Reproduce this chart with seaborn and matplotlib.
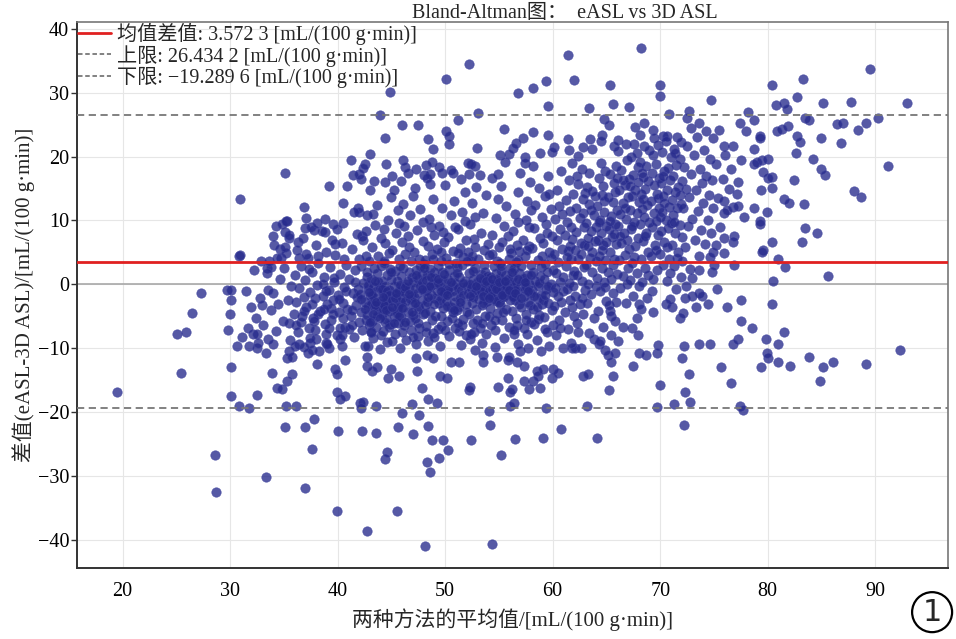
import seaborn as sns
import matplotlib.pyplot as plt
import matplotlib.lines as mlines
import pandas as pd

# summary statistics printed in the legend
mean_diff = 3.5723
upper_loa = 26.4342
lower_loa = -19.2896

# sparse points above the main cloud (x = mean of methods, y = difference)
outer_top = [
    (43.0, 20.4), (41.2, 19.5), (42.5, 18.8), (41.4, 17.1), (42.0, 17.3), (42.2, 16.5), (39.2, 15.4), (40.9, 15.4),
    (40.5, 12.7), (41.9, 11.9), (42.0, 11.3), (36.9, 12.1), (37.1, 10.4), (35.3, 9.9), (34.3, 9.1), (38.8, 10.2),
    (39.6, 9.4), (37.0, 8.8), (37.8, 8.5), (35.1, 8.2), (35.5, 7.2), (36.3, 6.7), (42.3, 7.5), (34.6, 5.6),
    (34.7, 4.2), (36.4, 4.2), (37.1, 4.7), (38.2, 4.4), (32.9, 3.6), (33.4, 2.5), (33.8, 2.7), (38.8, 8.2),
    (39.8, 6.3), (27.3, -1.3), (29.7, -0.9), (30.1, -0.9), (35.1, 17.4), (30.9, 13.3), (30.8, 4.4),
    (68.2, 37.0), (61.4, 35.9), (52.2, 34.5), (50.1, 32.2), (62.0, 32.0), (65.3, 31.2), (70.0, 31.2), (59.4, 31.8),
    (58.2, 30.7), (56.8, 30.0), (44.9, 30.1), (59.6, 27.9), (63.4, 27.6), (65.6, 28.2), (67.1, 27.8), (70.0, 29.5),
    (43.9, 26.5), (51.2, 25.7), (53.1, 26.8), (46.0, 24.9), (47.5, 24.9), (64.8, 25.9), (65.2, 24.9), (55.5, 24.3),
    (58.2, 23.8), (59.6, 23.4), (50.1, 24.0), (50.4, 23.2), (50.4, 22.0), (44.4, 22.9), (48.4, 22.7), (48.9, 21.2),
    (53.0, 21.3), (57.2, 22.9), (56.6, 22.1), (56.3, 21.3), (61.4, 22.7), (63.5, 22.7), (64.6, 23.4), (64.5, 22.4),
    (66.1, 22.6), (67.7, 24.6), (68.5, 25.3), (68.1, 23.4), (69.3, 24.2), (70.3, 23.2), (46.1, 19.5), (46.3, 18.4),
    (55.1, 20.2), (55.9, 20.4), (57.4, 19.9), (58.8, 20.5), (60.1, 21.5), (59.9, 20.7), (61.5, 21.0), (62.4, 20.1),
    (62.8, 21.5), (63.7, 21.2), (65.7, 21.6), (66.8, 22.0), (52.1, 19.0), (52.8, 18.5), (48.2, 18.7), (48.0, 17.1),
    (48.6, 17.3), (48.6, 15.7), (49.7, 17.4), (50.7, 17.4), (45.1, 16.9), (44.4, 16.0), (54.9, 17.3), (52.2, 17.3),
]

# sparse points on the right-hand side
outer_right = [
    (89.5, 33.7), (93.0, 28.4), (83.3, 32.2), (80.4, 31.2), (82.7, 29.3), (85.1, 28.4), (87.7, 28.5), (80.8, 28.1),
    (81.5, 28.4), (81.8, 27.5), (90.3, 26.0), (89.1, 25.3), (88.4, 24.2), (87.0, 25.3), (86.4, 25.1), (83.5, 26.0),
    (83.8, 25.7), (81.9, 24.8), (81.3, 24.3), (80.9, 24.0), (85.0, 22.9), (86.8, 22.1), (82.7, 23.2), (83.0, 22.3),
    (82.6, 20.5), (84.2, 19.6), (85.0, 18.0), (85.3, 17.1), (91.2, 18.5), (88.0, 14.6), (88.7, 13.6), (82.4, 16.3),
    (83.4, 12.5), (81.5, 13.3), (82.0, 12.7), (83.5, 8.8), (84.6, 8.0), (83.2, 6.6), (80.4, 6.6), (81.0, 3.9),
    (81.6, 2.7), (80.5, 0.6), (85.6, 1.3), (79.6, 5.3), (79.5, 5.0), (79.9, 11.3), (79.3, 9.9), (79.3, 9.4),
    (78.7, 11.9), (80.4, 15.1), (79.4, 14.7), (80.4, 16.8), (80.0, 16.6), (79.6, 17.6), (80.0, 19.6), (79.5, 19.5),
    (79.0, 19.1), (78.7, 18.8), (78.7, 21.2), (79.3, 23.2), (79.3, 22.9), (78.0, 24.0), (77.4, 25.3), (78.7, 25.7),
    (78.2, 27.0), (74.7, 28.9), (70.8, 26.7), (72.7, 27.1), (72.5, 26.0), (74.3, 24.0), (75.5, 24.2), (74.9, 22.9),
    (76.8, 21.6), (75.9, 21.6), (70.6, 23.2), (76.8, 12.1), (75.9, 13.0), (75.9, 11.1), (77.1, 14.1), (77.2, 16.0),
    (76.8, 6.6), (75.9, 7.2), (75.2, 6.1), (74.9, 5.0), (75.9, 4.9), (76.9, 3.1), (74.8, 1.9), (73.6, 2.2),
    (75.3, -0.7),
]

# sparse points below the main cloud
outer_bottom = [
    (19.5, -16.9), (25.1, -7.8), (25.9, -7.4), (25.4, -13.8), (26.5, -4.5), (28.6, -26.7), (28.7, -32.5),
    (30.1, -13.0), (30.1, -17.4), (30.8, -19.0), (31.8, -19.3), (32.5, -17.3), (33.3, -30.1), (29.8, -7.2),
    (30.0, -4.7), (30.1, -2.4), (30.6, -9.7), (31.1, -8.2), (31.8, -9.7), (32.1, -7.7), (32.5, -7.7), (32.5, -10.0),
    (33.3, -10.8), (33.5, -8.5), (34.0, -9.4), (33.9, -13.8), (34.4, -16.2), (34.8, -16.3), (35.3, -15.1),
    (35.8, -14.1), (35.2, -19.0), (36.1, -19.0), (35.1, -22.3), (37.0, -22.3), (37.8, -21.0), (37.6, -25.7),
    (37.0, -31.8), (39.9, -35.5), (42.7, -38.6), (38.1, -12.5), (39.8, -13.3), (39.9, -14.1), (39.9, -16.9),
    (40.2, -17.9), (40.7, -17.4), (40.0, -23.0), (42.3, -22.9), (42.1, -18.5), (42.4, -18.4), (42.2, -19.4),
    (42.7, -11.3), (42.7, -12.7), (43.2, -13.6), (40.7, -11.8), (43.6, -19.1), (43.6, -23.2),
    (36.4, -9.3), (35.5, -10.4), (35.3, -11.6), (35.8, -11.3), (37.4, -9.1), (37.2, -10.7), (37.6, -10.2),
    (38.3, -10.5), (38.9, -9.1), (39.2, -10.0), (40.2, -8.6), (40.4, -9.7), (42.8, -9.6), (43.1, -7.5),
    (45.5, -35.5), (48.1, -40.9), (54.4, -40.6), (44.4, -27.3), (44.6, -26.2), (45.6, -22.3), (47.0, -23.4),
    (48.3, -27.8), (48.6, -29.3), (49.4, -27.1), (48.8, -24.3), (49.8, -24.3), (50.3, -25.9), (48.4, -22.1),
    (47.6, -20.5), (46.0, -20.1), (46.9, -18.7), (48.4, -18.0), (49.2, -18.5), (47.8, -16.2), (52.4, -24.3),
    (54.2, -22.0), (54.1, -19.8), (55.2, -26.7), (56.5, -24.2), (59.1, -24.0), (60.8, -22.7), (64.1, -24.0),
    (59.4, -19.4), (63.2, -19.1), (69.7, -19.2), (70.0, -15.7), (65.2, -16.5), (65.6, -14.3), (62.8, -14.3),
    (63.3, -14.0), (56.4, -18.5), (56.0, -19.1), (54.9, -16.0), (56.2, -16.3), (56.0, -16.9), (52.3, -16.0),
    (52.2, -16.5), (57.8, -16.3), (58.8, -16.2), (58.2, -15.2), (58.6, -14.4), (57.3, -15.1), (55.8, -14.7),
    (59.9, -14.6), (60.0, -13.3), (60.5, -13.8), (58.5, -13.5), (59.1, -13.3), (50.2, -14.7), (49.5, -14.4),
    (47.4, -13.6), (45.7, -14.4), (44.7, -14.7), (45.0, -13.3), (43.7, -12.9), (47.3, -11.6), (48.3, -11.0),
    (48.9, -11.6), (50.5, -12.1), (51.3, -12.1), (53.5, -12.1), (53.5, -11.1), (54.8, -11.3), (55.8, -11.9),
    (55.9, -11.3), (56.7, -12.2), (57.3, -12.7), (57.0, -10.5), (61.0, -9.9), (61.8, -10.0), (62.1, -9.9),
    (64.3, -9.3), (64.9, -10.2), (65.1, -11.1), (65.4, -12.1), (65.8, -10.8), (66.1, -8.9), (66.5, -6.7),
    (67.5, -12.7), (67.4, -6.9), (67.9, -8.0), (68.0, -10.7), (68.7, -11.1), (69.3, -4.4), (67.8, -5.3),
    (65.4, -4.9), (65.3, -4.1), (68.0, -3.0), (68.2, -3.9),
    (92.3, -10.2), (89.1, -12.4), (86.1, -12.1), (85.1, -13.0), (84.9, -15.1), (83.8, -11.3), (82.1, -12.7),
    (81.0, -12.1), (80.0, -11.5), (79.9, -10.8), (79.4, -13.0), (81.5, -7.4), (81.0, -9.4), (79.8, -8.6),
    (80.4, -3.1), (78.5, -6.9), (77.5, -5.8), (77.2, -8.6), (76.8, -9.3), (77.5, -2.4), (76.6, -15.5),
    (77.4, -19.1), (77.7, -19.6), (75.7, -13.0), (74.6, -9.4), (73.6, -9.3), (72.2, -9.6), (69.8, -9.5),
    (69.7, -10.8), (72.0, -11.6), (72.7, -14.1), (72.3, -16.8), (72.8, -18.4), (71.3, -18.8), (72.2, -22.0),
    (76.2, -3.5), (74.4, -3.0), (71.1, -3.6), (70.5, -3.0), (71.8, -5.2), (72.1, -4.5), (72.3, -2.2),
    (73.0, -1.9), (73.6, -1.4),
]

# main cloud, by x band
band_30_36 = [
    (30.9, 4.6), (31.5, -1.0), (31.9, -3.5), (32.4, -5.2), (32.8, -2.1), (33.1, -6.4), (33.4, 1.8), (33.6, 3.6),
    (33.8, -4.0), (34.0, -1.4), (34.1, 6.2), (34.3, -7.3), (34.5, -3.0), (34.6, 0.8), (34.8, 9.5), (34.9, -5.8),
    (35.0, 2.6), (35.2, 4.9), (35.4, -2.4), (35.5, 7.8), (35.6, -8.7), (35.7, -0.3), (35.9, -4.6), (36.0, 1.5),
    (34.0, 7.6), (32.6, -9.1), (35.1, 5.9), (33.5, -0.9), (31.7, -6.8), (32.2, 2.3), (34.4, 4.1), (35.5, -6.1),
    (33.0, -3.3), (36.0, -9.6), (35.2, 9.9),
]
band_36_42 = [
    (36.1, -2.8), (36.2, 5.4), (36.3, -7.5), (36.4, -0.5), (36.6, 2.9), (36.7, -4.9), (36.8, 7.3), (36.9, -9.8),
    (37.0, 0.7), (37.1, -3.6), (37.2, 4.2), (37.3, -6.8), (37.4, -1.2), (37.5, 9.0), (37.6, 1.9), (37.7, -5.3),
    (37.9, -2.2), (38.0, 6.1), (38.0, -8.6), (38.1, -0.1), (38.2, 3.4), (38.4, -4.1), (38.5, 8.3), (38.6, -1.8),
    (38.7, 1.2), (38.8, -6.2), (38.9, 5.1), (39.0, -3.0), (39.0, -9.3), (39.2, -0.9), (39.3, 2.7), (39.4, -5.6),
    (39.5, 7.0), (39.6, -2.5), (39.7, 0.4), (39.8, 4.6), (39.9, -7.9), (40.0, -1.6), (40.1, -4.4), (40.2, 1.6),
    (40.4, 6.4), (40.5, -2.9), (40.5, 9.6), (40.6, -0.4), (40.7, -6.6), (40.8, 3.1), (40.9, -3.8), (41.1, 0.9),
    (41.2, -5.0), (41.3, 5.5), (41.4, -1.3), (41.5, -8.2), (41.5, 11.4), (41.6, 2.2), (41.7, -3.2), (41.8, 7.9),
    (41.9, -0.7), (42.0, -5.9), (42.0, 4.0), (36.9, -2.0), (37.6, -3.1), (38.2, -4.6), (38.9, -1.1), (39.4, -3.7),
    (40.1, -2.3), (40.8, -1.0), (41.3, -4.0), (41.8, -2.0), (37.3, 2.4), (38.6, 0.1), (39.7, 1.0), (40.6, 3.9),
    (41.6, 0.3), (36.6, -5.9), (37.9, -7.2), (39.2, -6.9), (40.4, -8.0), (41.1, -7.0), (38.1, 9.6), (39.9, 8.7),
]
band_42_48 = [
    (42.1, -1.5), (42.2, -4.3), (42.2, 2.8), (42.3, -7.1), (42.4, 0.2), (42.4, 6.9), (42.5, -2.7), (42.5, -9.6),
    (42.6, 4.5), (42.6, -5.5), (42.7, 1.1), (42.7, 10.8), (42.8, -0.8), (42.8, -3.4), (42.9, -6.3), (42.9, 3.7),
    (43.0, -1.9), (43.0, 14.7), (42.6, 8.4), (42.4, 18.2), (42.8, -0.1), (42.2, -2.3), (42.7, -4.8),
    (43.1, -3.1), (43.1, 0.9), (43.2, -5.7), (43.2, 5.8), (43.3, -0.4), (43.3, -8.4), (43.4, 2.5), (43.4, -2.2),
    (43.5, -4.0), (43.5, 9.3), (43.6, -1.1), (43.6, -6.7), (43.7, 1.7), (43.7, 12.4), (43.8, -3.6), (43.8, 4.4),
    (43.9, -0.6), (43.9, -10.1), (44.0, -2.6), (44.0, 7.2), (43.2, -1.6), (43.5, -3.3), (43.8, 0.3), (43.4, 16.1),
    (43.1, -7.5), (43.7, -5.0), (44.0, 2.9), (43.3, 11.0),
    (44.1, -4.6), (44.1, 0.5), (44.2, -1.4), (44.2, -7.3), (44.3, 3.3), (44.3, -2.9), (44.4, -0.2), (44.4, 6.5),
    (44.5, -5.4), (44.5, -1.8), (44.6, 1.4), (44.6, -9.0), (44.7, -3.5), (44.7, 10.1), (44.8, -0.9), (44.8, 4.9),
    (44.9, -6.2), (44.9, -2.1), (45.0, 0.8), (45.0, 13.6), (44.2, -3.8), (44.4, -5.9), (44.6, -2.4), (44.8, -4.2),
    (44.3, 8.7), (44.5, 18.9), (44.9, 2.4), (44.1, -0.7), (44.6, -1.1), (44.3, -3.3), (44.8, -1.6),
    (45.1, -2.4), (45.1, 5.3), (45.2, -4.9), (45.2, -0.3), (45.3, 2.1), (45.3, -7.8), (45.4, -1.7), (45.4, 8.0),
    (45.5, -3.9), (45.5, 0.6), (45.6, -6.0), (45.6, 11.7), (45.7, -1.0), (45.7, 3.9), (45.8, -2.8), (45.8, -9.9),
    (45.9, 1.3), (45.9, -5.1), (46.0, -0.5), (46.0, 6.7), (45.2, 14.8), (45.6, -3.2), (45.8, -0.1), (45.3, -2.1),
    (45.7, 9.6), (45.9, 16.2), (45.1, -8.9), (45.5, -4.5), (46.0, -2.2),
    (46.1, -3.6), (46.1, 2.6), (46.2, -1.2), (46.2, -6.4), (46.3, 4.8), (46.3, -2.6), (46.4, 0.0), (46.4, -8.7),
    (46.5, 7.5), (46.5, -4.3), (46.6, -0.8), (46.6, 1.9), (46.7, -5.7), (46.7, 10.9), (46.8, -1.9), (46.8, 3.6),
    (46.9, -3.0), (47.0, 0.4), (47.0, 13.9), (46.2, 9.1), (46.6, 5.9), (46.8, -7.1), (46.3, -0.4), (46.7, -2.3),
    (46.9, 1.1), (46.5, 17.4), (46.1, 12.6), (47.0, -4.8),
    (47.1, -2.0), (47.1, 5.0), (47.2, -0.6), (47.2, -5.2), (47.3, 2.3), (47.3, -9.4), (47.4, -1.4), (47.4, 8.5),
    (47.5, -3.4), (47.5, 0.9), (47.6, -6.9), (47.6, 4.0), (47.7, -0.2), (47.7, 11.8), (47.8, -2.5), (47.8, 1.6),
    (47.9, -4.7), (47.9, 6.8), (48.0, -1.0), (47.2, 15.1), (47.6, -3.9), (47.8, 0.3), (47.3, 18.0), (47.9, 9.8),
    (47.5, -8.1), (47.7, 2.9), (48.0, 3.2),
]
band_48_54 = [
    (48.1, -3.3), (48.1, 3.8), (48.2, -0.9), (48.2, -6.5), (48.3, 1.5), (48.3, -2.7), (48.4, 6.0), (48.4, -8.8),
    (48.5, -0.4), (48.5, 10.3), (48.6, -4.1), (48.6, 2.4), (48.7, -1.6), (48.8, 4.7), (48.8, -5.6), (48.9, 0.1),
    (48.9, 13.4), (49.0, -2.2), (49.0, 7.7), (48.3, 16.6), (48.7, 8.9), (48.9, -7.6), (48.2, 0.7), (48.6, -0.2),
    (48.8, 19.2), (49.0, 1.9),
    (49.1, -4.9), (49.1, 1.0), (49.2, -1.1), (49.2, 5.6), (49.3, -7.0), (49.3, 2.9), (49.4, -2.9), (49.4, 9.2),
    (49.5, -0.3), (49.5, -9.7), (49.6, 3.6), (49.6, -5.0), (49.7, -1.8), (49.7, 12.0), (49.8, 0.5), (49.8, -3.7),
    (49.9, 6.6), (50.0, -0.8), (50.0, 15.6), (49.4, 18.3), (49.6, -6.5), (49.8, 8.2), (49.3, 0.2), (49.7, 2.0),
    (49.5, -2.4), (49.9, -1.3),
    (50.1, -2.6), (50.1, 4.1), (50.2, -5.8), (50.2, 0.8), (50.3, -1.3), (50.3, 7.4), (50.4, -8.1), (50.4, 2.2),
    (50.5, -3.5), (50.5, 10.8), (50.6, -0.1), (50.7, 5.2), (50.7, -4.4), (50.8, 1.3), (50.8, 13.1), (50.9, -1.9),
    (50.9, -6.9), (51.0, 3.4), (50.2, -3.4), (50.5, 17.9), (50.7, -1.1), (50.9, 8.9), (50.3, -0.7), (50.6, -5.2),
    (50.8, -2.8), (51.0, 0.0),
    (51.1, -4.0), (51.1, 2.7), (51.2, -0.5), (51.2, 8.6), (51.3, -7.3), (51.3, 1.2), (51.4, -2.1), (51.4, 5.7),
    (51.5, -9.5), (51.5, -0.9), (51.6, 11.4), (51.6, 3.0), (51.7, -5.4), (51.7, -1.7), (51.8, 0.6), (51.8, 14.5),
    (51.9, -3.1), (51.9, 6.9), (52.0, -0.2), (51.6, -6.3), (51.8, 9.9), (51.3, -3.6), (51.7, 4.3), (51.5, 16.5),
    (51.9, -8.0),
    (52.1, -1.4), (52.1, 5.0), (52.2, -4.6), (52.2, 1.8), (52.3, -8.5), (52.3, 9.5), (52.4, -0.6), (52.4, 3.6),
    (52.5, -2.9), (52.5, 12.7), (52.6, -6.0), (52.6, 0.9), (52.7, -1.2), (52.7, 7.1), (52.8, -10.2), (52.8, 2.5),
    (52.9, -3.8), (52.9, 15.2), (53.0, 0.3), (53.0, -5.5), (52.4, 18.8), (52.6, -2.0), (52.8, 10.6), (52.3, 0.0),
    (52.7, -7.4), (52.5, 4.4), (52.9, -0.9),
    (53.1, -2.3), (53.1, 3.9), (53.2, -0.1), (53.2, -6.8), (53.3, 1.6), (53.3, 8.1), (53.4, -3.2), (53.4, -9.1),
    (53.5, 0.7), (53.5, 11.2), (53.6, -1.6), (53.6, 5.4), (53.7, -4.9), (53.7, 2.0), (53.8, -0.7), (53.8, 14.0),
    (53.9, -2.6), (54.0, 6.3), (54.0, 0.2), (53.2, 17.1), (53.6, -0.4), (53.8, -7.7), (53.3, -1.1), (53.5, -2.9),
    (53.7, 0.9), (53.9, 1.3), (54.0, -1.5),
]
band_54_60 = [
    (54.1, -1.0), (54.1, 4.6), (54.2, -3.7), (54.2, 1.1), (54.3, -6.3), (54.3, 0.0), (54.4, -0.8), (54.4, 7.8),
    (54.5, -2.3), (54.5, 2.8), (54.6, -9.8), (54.6, -0.4), (54.7, 1.7), (54.7, 10.4), (54.8, -1.5), (54.8, -4.5),
    (54.9, 0.6), (54.9, 13.3), (55.0, -2.8), (55.0, 5.9), (54.4, 16.7), (54.6, -7.2), (54.8, 3.7), (54.3, -1.9),
    (54.5, -0.1), (54.7, -2.6), (54.9, -0.7), (54.1, -5.0), (55.0, 1.0),
    (55.1, -0.3), (55.1, -3.1), (55.2, 2.1), (55.2, -1.1), (55.3, -5.6), (55.3, 6.7), (55.4, 0.4), (55.4, -2.0),
    (55.5, 9.1), (55.5, -8.4), (55.6, 1.5), (55.6, -0.6), (55.7, -3.8), (55.7, 12.2), (55.8, 0.9), (55.8, -1.4),
    (55.9, 4.0), (56.0, -2.4), (56.0, 0.1), (55.2, 15.4), (55.6, 19.1), (55.8, 7.5), (55.3, -0.9), (55.5, -1.8),
    (55.7, -0.2), (55.9, -6.7), (55.1, 3.3), (56.0, 2.6),
    (56.1, -1.7), (56.1, 4.9), (56.2, -4.2), (56.2, 1.2), (56.3, -0.4), (56.3, 8.4), (56.4, -7.8), (56.4, 2.6),
    (56.5, -2.5), (56.5, 11.0), (56.6, 0.3), (56.6, -5.3), (56.7, 6.1), (56.7, -1.0), (56.8, -9.3), (56.8, 14.4),
    (56.9, 1.8), (56.9, -3.0), (57.0, -0.2), (57.0, 17.4), (56.6, 3.5), (56.8, 9.8), (56.3, -2.0), (56.5, -0.9),
    (56.7, -6.4), (56.9, 5.2),
    (57.1, -3.6), (57.1, 2.9), (57.2, 0.5), (57.2, 7.0), (57.3, -1.9), (57.3, -6.9), (57.4, 4.4), (57.4, -0.8),
    (57.5, 10.1), (57.5, -4.6), (57.6, 1.5), (57.6, 13.0), (57.7, -2.8), (57.7, -9.9), (57.8, 6.0), (57.8, 0.0),
    (57.9, -1.3), (57.9, 16.0), (58.0, 3.0), (58.0, -5.9), (57.4, 19.0), (57.6, -7.8), (57.8, 8.9), (57.3, 1.0),
    (57.9, -3.2), (57.5, -0.4), (58.0, 11.6),
    (58.1, -0.9), (58.1, 5.7), (58.2, -3.9), (58.2, 2.0), (58.3, 8.8), (58.3, -6.2), (58.4, 0.6), (58.4, 12.4),
    (58.5, -2.1), (58.5, -8.7), (58.6, 3.8), (58.6, -0.3), (58.7, 15.1), (58.7, -4.8), (58.8, 1.3), (58.8, 7.3),
    (58.9, -10.4), (58.9, -1.6), (59.0, 10.5), (59.0, 4.5), (58.2, 18.6), (58.6, -5.4), (58.3, -1.9), (58.7, 0.2),
    (58.9, 2.7), (59.0, -3.0),
    (59.1, -2.5), (59.1, 6.4), (59.2, 0.9), (59.2, -5.1), (59.3, 3.2), (59.3, 13.9), (59.4, -0.7), (59.4, 9.4),
    (59.5, -7.4), (59.5, 1.9), (59.6, -2.9), (59.6, 16.9), (59.7, 5.1), (59.7, -9.6), (59.8, 0.1), (59.8, 11.8),
    (59.9, -4.0), (59.9, 7.6), (60.0, 2.3), (60.0, -1.2), (59.6, -0.2), (59.8, 4.1), (59.3, -1.6), (59.7, 14.2),
    (59.5, 8.1), (60.0, -6.3),
]
band_60_66 = [
    (60.1, -3.4), (60.1, 4.8), (60.2, 10.2), (60.2, -0.6), (60.3, 1.7), (60.3, -8.0), (60.4, 6.9), (60.4, 14.8),
    (60.5, -1.9), (60.5, 3.5), (60.6, 12.3), (60.6, -5.5), (60.7, 0.4), (60.7, 8.6), (60.8, 17.7), (60.8, -2.7),
    (60.9, 5.6), (61.0, 1.1), (60.7, -6.8), (60.9, 11.0), (61.0, -1.0),
    (61.1, 7.7), (61.1, -4.3), (61.2, 2.8), (61.2, 13.2), (61.3, -0.8), (61.3, 9.8), (61.4, -7.0), (61.4, 5.2),
    (61.5, 16.3), (61.5, 0.2), (61.6, -2.4), (61.6, 11.5), (61.7, 3.9), (61.7, -9.2), (61.8, 7.1), (61.8, 19.0),
    (61.9, -0.3), (61.9, 14.1), (62.0, -5.0), (62.0, 2.1), (61.6, 6.0), (61.8, -3.5), (61.3, 4.3), (61.7, 9.0),
    (61.9, 1.5),
    (62.1, 5.3), (62.1, -1.8), (62.2, 12.0), (62.2, 8.2), (62.3, -6.0), (62.3, 1.4), (62.4, 15.7), (62.4, 3.9),
    (62.5, -3.0), (62.5, 10.4), (62.6, 6.4), (62.6, -9.9), (62.7, 0.5), (62.7, 18.1), (62.8, 13.4), (62.8, -4.7),
    (62.9, 2.7), (62.9, 8.9), (63.0, -0.9), (62.4, -7.4), (62.6, 4.8), (62.8, 11.1), (62.3, 16.9), (62.7, -2.2),
    (62.9, 6.1), (63.0, 14.3),
    (63.1, 3.1), (63.1, 9.6), (63.2, -2.9), (63.2, 15.2), (63.3, 6.0), (63.3, 0.0), (63.4, 12.5), (63.4, -7.6),
    (63.5, 4.2), (63.6, 8.4), (63.6, -1.5), (63.7, 14.6), (63.7, 1.9), (63.8, -5.2), (63.8, 10.9), (63.9, 6.8),
    (64.0, -0.3), (64.0, 3.7), (63.4, 17.5), (63.6, 11.7), (63.8, -8.6), (63.3, 7.3), (63.7, 5.0), (63.9, 13.8),
    (64.0, 9.0),
    (64.1, 1.0), (64.1, 12.2), (64.2, 7.0), (64.2, -4.1), (64.3, 16.6), (64.3, 4.5), (64.4, 10.1), (64.4, -1.1),
    (64.5, 19.0), (64.5, 8.1), (64.6, 2.6), (64.6, 14.0), (64.7, -6.7), (64.7, 6.2), (64.8, 11.3), (64.8, 0.3),
    (64.9, 17.8), (64.9, 3.8), (65.0, 9.2), (65.0, -2.6), (64.4, -8.8), (64.6, 5.3), (64.8, 13.1), (64.3, 9.7),
    (64.7, 15.4), (64.9, -0.4), (65.0, 6.7),
    (65.1, 13.6), (65.1, 2.0), (65.2, 8.6), (65.2, -3.3), (65.3, 17.2), (65.3, 5.1), (65.4, 10.7), (65.4, 0.9),
    (65.5, 7.4), (65.6, -1.4), (65.6, 12.9), (65.7, 4.0), (65.7, 15.9), (65.8, 9.5), (65.8, -5.8), (65.9, 6.3),
    (65.9, 18.5), (66.0, 1.6), (66.0, 11.6), (65.4, -8.0), (65.6, 3.1), (65.8, 14.4), (65.3, 9.9), (65.7, 7.9),
    (65.9, -2.8), (66.0, 16.7),
]
band_66_72 = [
    (66.1, 9.1), (66.1, 20.9), (66.2, 3.8), (66.2, 14.7), (66.3, -0.6), (66.3, 11.0), (66.4, 6.5), (66.4, 17.9),
    (66.5, 1.3), (66.5, 12.8), (66.6, 8.0), (66.7, 4.6), (66.7, 15.6), (66.8, -2.9), (66.8, 10.3), (66.9, 19.4),
    (66.9, 6.9), (67.0, 13.7), (67.0, 2.5), (66.3, 7.6), (66.5, 16.3), (66.7, 11.9), (66.9, 0.1),
    (67.1, 16.5), (67.1, 5.5), (67.2, 11.6), (67.2, 0.7), (67.3, 20.0), (67.3, 8.7), (67.4, 13.9), (67.4, 3.3),
    (67.5, 17.1), (67.5, -1.9), (67.6, 9.8), (67.6, 22.0), (67.7, 6.0), (67.7, 14.8), (67.8, 1.7), (67.8, 11.1),
    (67.9, 18.4), (67.9, 7.2), (68.0, -0.3), (68.0, 12.9), (67.2, 15.4), (67.4, 9.1), (67.6, 4.3), (67.8, 20.6),
    (67.9, 16.0),
    (68.1, 9.4), (68.1, 19.2), (68.2, 3.9), (68.2, 14.2), (68.3, 11.8), (68.3, 0.4), (68.4, 16.8), (68.4, 6.8),
    (68.5, 21.7), (68.5, 10.5), (68.6, 2.6), (68.6, 15.0), (68.7, 8.1), (68.7, 18.6), (68.8, -2.1), (68.8, 12.4),
    (68.9, 5.0), (68.9, 16.1), (69.0, 9.7), (69.0, 21.0), (68.4, 13.3), (68.6, 7.5), (68.3, 17.5), (68.9, 1.4),
    (69.1, 13.0), (69.1, 4.5), (69.2, 17.4), (69.2, 8.9), (69.3, 0.9), (69.3, 20.3), (69.4, 11.2), (69.4, 15.6),
    (69.5, 6.1), (69.6, 18.9), (69.6, 9.9), (69.7, 14.1), (69.7, 2.2), (69.8, 21.8), (69.8, 7.7), (69.9, 12.0),
    (69.9, 16.6), (70.0, 4.8), (70.0, 10.6), (69.2, -1.0), (69.4, 22.9), (69.6, 5.4), (69.8, 13.5),
    (70.1, 15.9), (70.1, 8.3), (70.2, 11.4), (70.2, 20.7), (70.3, 3.0), (70.3, 13.8), (70.4, 17.8), (70.4, 6.6),
    (70.5, 10.0), (70.5, 22.4), (70.6, 0.6), (70.6, 14.8), (70.7, 8.8), (70.7, 18.2), (70.8, 12.1), (70.8, 4.0),
    (70.9, 16.4), (70.9, -2.3), (71.0, 9.6), (71.0, 20.0), (70.4, 12.7), (70.6, 5.9), (70.3, 16.9), (70.9, 1.8),
    (71.1, 13.2), (71.1, 6.2), (71.2, 17.0), (71.2, 10.8), (71.3, 2.9), (71.3, 21.2), (71.4, 14.4), (71.4, 8.0),
    (71.5, 18.7), (71.5, -0.8), (71.6, 11.9), (71.6, 23.1), (71.7, 5.1), (71.7, 15.3), (71.8, 9.3), (71.8, 19.6),
    (71.9, 12.6), (71.9, 1.2), (72.0, 16.2), (72.0, 7.4), (71.4, 20.5), (71.6, 4.1), (71.8, 14.0), (71.3, 9.8),
    (71.9, 22.2),
]
band_72_78 = [
    (72.1, 12.0), (72.2, 18.4), (72.3, 5.8), (72.4, 15.0), (72.5, 21.6), (72.6, 9.1), (72.7, 13.6), (72.8, 2.4),
    (72.9, 17.3), (73.0, 10.2), (73.1, 20.2), (73.2, 7.0), (73.3, 14.7), (73.4, 23.0), (73.5, 11.5), (73.6, 4.4),
    (73.7, 18.0), (73.8, 8.5), (73.9, 15.8), (74.0, 12.8), (74.1, 21.0), (74.2, 6.3), (74.3, 17.0), (74.4, 10.0),
    (74.5, 14.0), (74.6, 19.6), (74.7, 8.0), (74.8, 16.3), (74.9, 11.9), (75.0, 3.0), (75.2, 18.9), (75.4, 13.5),
    (75.6, 9.0), (75.8, 16.5), (76.0, 20.2), (76.2, 11.6), (76.4, 14.9), (76.6, 18.0), (76.9, 7.6), (77.2, 12.2),
    (77.5, 19.4), (77.8, 10.5), (72.4, -0.2), (73.0, 1.0), (73.9, -1.8), (74.6, 4.3), (72.9, 24.5), (73.6, 25.2),
    (72.0, 3.6), (73.3, -3.6),
]
# extra points in the saturated centre of the cloud
core_dense = [
    (42.5, -3.9), (42.9, -1.2), (43.3, -4.7), (43.6, -2.8), (43.9, -5.3), (44.2, -2.0), (44.5, -4.0), (44.8, -6.6),
    (45.1, -3.5), (45.4, -1.3), (45.7, -5.0), (46.0, -3.7), (46.3, -5.9), (46.6, -1.5), (46.9, -4.4), (47.2, -2.9),
    (47.5, -6.1), (47.8, -0.7), (48.1, -4.5), (48.4, -2.0), (48.7, 1.2), (49.0, -3.1), (49.3, 0.9), (49.6, -1.0),
    (49.9, 1.6), (50.2, -1.6), (50.5, 0.4), (50.8, -4.0), (51.1, 1.8), (51.4, -2.7), (51.7, 0.2), (52.0, -4.4),
    (52.3, -1.8), (52.6, 2.1), (52.9, -0.3), (53.2, 1.0), (53.5, -1.9), (53.8, 0.5), (54.1, -2.1), (54.4, 0.9),
    (54.7, -0.7), (55.0, 0.3), (55.3, -1.6), (55.6, 0.6), (55.9, -0.9), (56.2, 1.9), (56.5, -1.3), (56.8, 0.8),
    (57.1, -2.2), (57.4, 0.3), (57.7, -1.0), (58.0, 1.4), (42.7, 2.0), (43.5, 0.6), (44.3, 3.6), (45.0, 1.9),
    (45.8, 2.9), (46.5, 0.5), (47.3, 1.4), (48.0, 2.6), (48.9, 4.0), (49.6, 5.1), (50.4, 3.2), (51.2, 4.9),
    (52.0, 3.7), (52.8, 5.9), (53.6, 3.0), (54.4, 4.8), (55.2, 2.9), (56.0, 5.6), (56.8, 3.8), (57.6, 5.3),
    (55.4, -4.3), (54.6, -5.6), (53.4, -6.0), (52.4, -7.8), (51.2, -6.1), (50.0, -7.2), (49.0, -8.3), (48.2, -7.5),
    (47.0, -8.2), (46.0, -7.4), (45.2, -6.0), (44.0, -8.0), (43.0, -5.9), (56.4, -7.2), (57.5, -5.6), (58.5, -3.5),
    (59.3, -7.0), (41.3, -6.3), (40.5, -5.2), (39.6, -4.6), (38.7, -3.8), (37.8, -5.8), (36.9, -4.1), (36.1, -6.4),
    (37.4, -8.4), (38.9, -7.8), (40.2, -6.9),
]

groups = [outer_top, outer_right, outer_bottom, band_30_36, band_36_42, band_42_48,
          band_48_54, band_54_60, band_60_66, band_66_72, band_72_78, core_dense]
pts = [p for g in groups for p in g]
df = pd.DataFrame(pts, columns=["mean", "diff"])

sns.set_theme(style="whitegrid")
plt.rcParams['font.family'] = ['Liberation Serif', 'Noto Sans CJK SC']
plt.rcParams['axes.unicode_minus'] = True

fig, ax = plt.subplots(figsize=(9.56, 6.39), dpi=100)
fig.subplots_adjust(left=0.081, right=0.992, top=0.966, bottom=0.111)

ax.axhline(0, color="#a8a8a8", lw=1.2, zorder=1.5)
sns.scatterplot(data=df, x="mean", y="diff", ax=ax, s=46, color="#262a8c", alpha=0.78,
                edgecolor="#4347a0", linewidth=0.5, zorder=2)
ax.axhline(mean_diff, color="#e02020", lw=2.0, zorder=3)
ax.axhline(upper_loa, color="#777777", lw=1.3, ls=(0, (4, 2.5)), zorder=3)
ax.axhline(lower_loa, color="#777777", lw=1.3, ls=(0, (4, 2.5)), zorder=3)

ax.set_xlim(15.8, 96.8)
ax.set_ylim(-44.4, 41.1)
ax.set_xticks(range(20, 100, 10))
ax.set_yticks(range(-40, 50, 10))
ax.grid(True, color="#e6e6e6", lw=0.8)
ax.set_facecolor("white")
for side in ["left", "bottom"]:
    ax.spines[side].set_color("#333333")
    ax.spines[side].set_linewidth(1.4)
for side in ["top", "right"]:
    ax.spines[side].set_color("#777777")
    ax.spines[side].set_linewidth(1.2)
ax.tick_params(axis="both", labelsize=14.5, colors="black")
ax.tick_params(axis="y", left=True, length=4, width=1, color="#333333", pad=2)
ax.tick_params(axis="x", bottom=False, pad=4)

ax.set_title("Bland-Altman图：  eASL vs 3D ASL", fontsize=14.5, pad=3, x=0.56)
ax.set_xlabel("两种方法的平均值/[mL/(100 g·min)]", fontsize=15, labelpad=5)
ax.set_ylabel("差值(eASL-3D ASL)/[mL/(100 g·min)]", fontsize=15, labelpad=2)

h_mean = mlines.Line2D([], [], color="#e02020", lw=2.0)
h_up = mlines.Line2D([], [], color="#777777", lw=1.3, ls=(0, (2.5, 1.5)))
h_low = mlines.Line2D([], [], color="#777777", lw=1.3, ls=(0, (2.5, 1.5)))
ax.legend([h_mean, h_up, h_low],
          ["均值差值: 3.572 3 [mL/(100 g·min)]",
           "上限: 26.434 2 [mL/(100 g·min)]",
           "下限: \u221219.289 6 [mL/(100 g·min)]"],
          loc="upper left", frameon=False, fontsize=14.5, handlelength=1.6, handletextpad=0.3,
          labelspacing=0.0, borderaxespad=0.0, borderpad=0.05)

fig.text(0.975, 0.042, "1", fontsize=22, family="DejaVu Sans", ha="center", va="center",
         bbox=dict(boxstyle="circle,pad=0.18", fc="white", ec="black", lw=1.6))

fig.savefig("out.png", dpi=100)
